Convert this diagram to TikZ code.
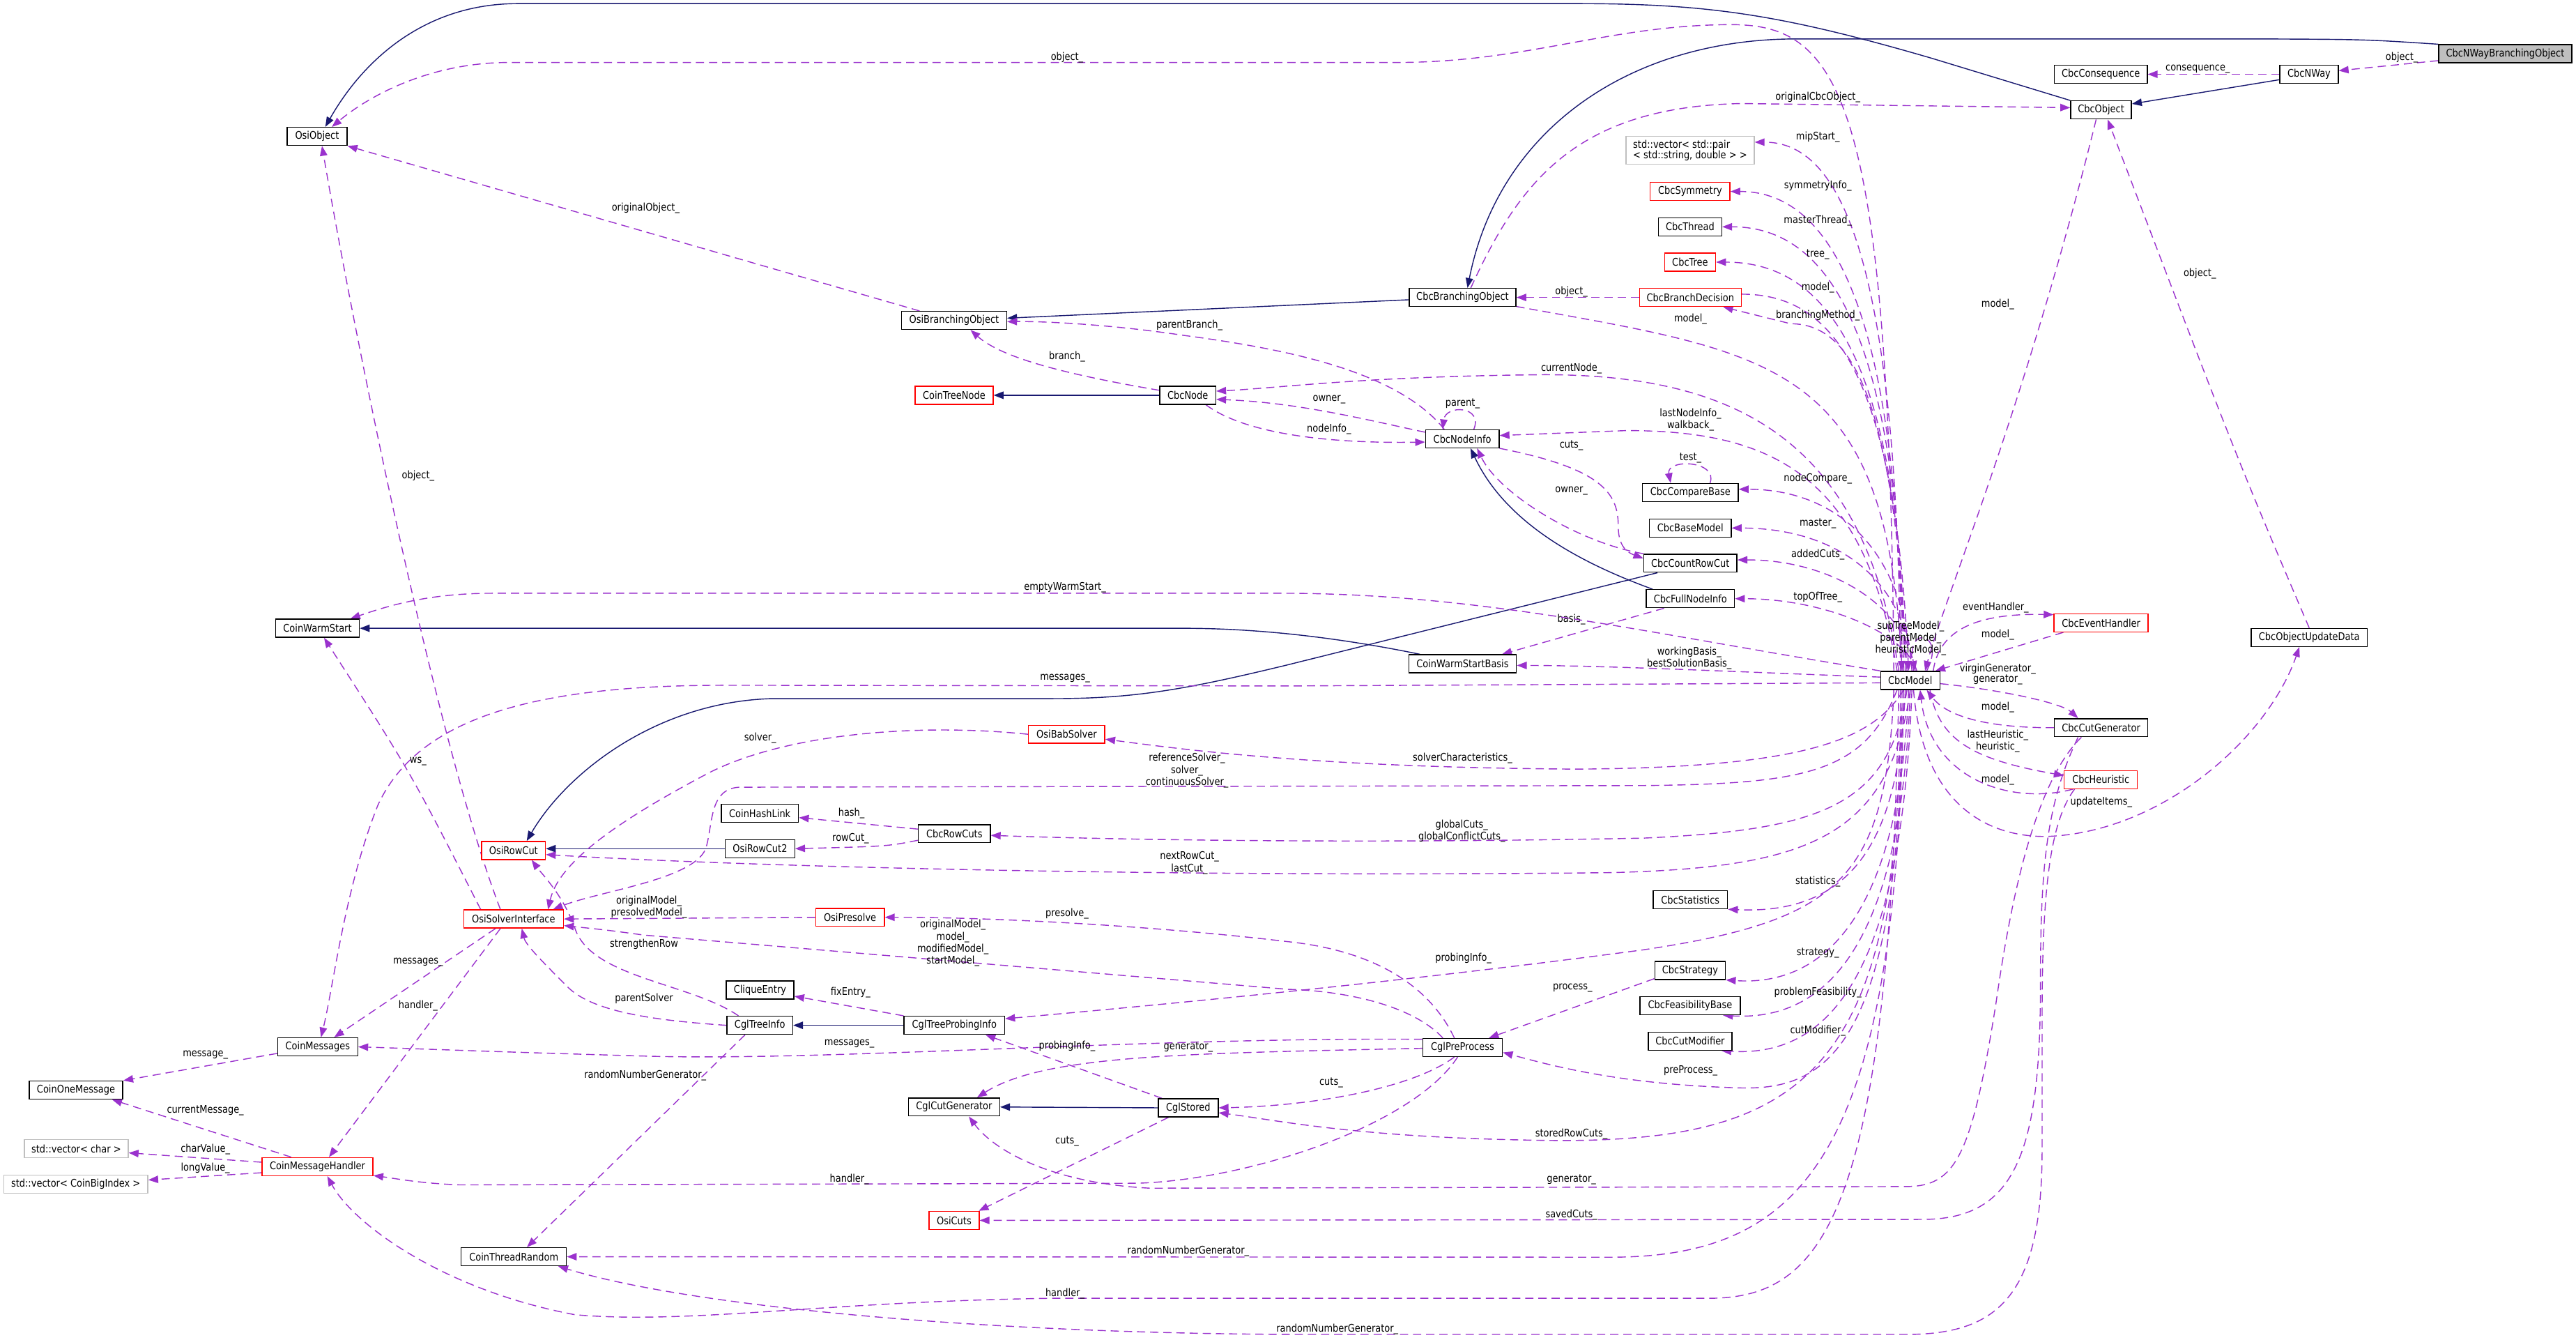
\documentclass[tikz,border=0pt]{standalone}
\usepackage{fontspec}
\setmainfont{DejaVu Sans}[FakeStretch=0.86]
\usetikzlibrary{arrows.meta}
\definecolor{inhblue}{RGB}{25,25,112}
\definecolor{usepurple}{RGB}{154,50,205}
\definecolor{boxred}{RGB}{255,0,0}
\definecolor{boxgray}{RGB}{191,191,191}
\newcommand{\dfont}{\fontsize{6.4}{6.3}\selectfont}
\pgfdeclarelayer{edges}
\pgfsetlayers{edges,main}
\tikzset{
  cls/.style={draw=black, fill=white, line width=0.6pt, minimum height=11pt, inner sep=0pt, font=\dfont},
  clsred/.style={cls, draw=boxred},
  clsext/.style={cls, draw=boxgray},
  clsfocus/.style={cls, fill=boxgray},
  inh/.style={-{Triangle[length=6pt,width=4.5pt]}, inhblue, line width=0.6pt},
  useedge/.style={-{Triangle[length=6pt,width=4.5pt]}, usepurple, line width=0.6pt, dash pattern=on 5pt off 3pt},
  lbl/.style={font=\dfont, text=black, inner sep=0pt, align=center},
}

\begin{document}
\begin{tikzpicture}[x=1pt, y=-1pt]
    \useasboundingbox (0,0) rectangle (1568,815);
    % --- classes
    \node[cls, minimum width=36.5pt] (OsiObject) at (193,83) {OsiObject};
    \node[cls, minimum width=64pt] (OsiBranchingObject) at (580.75,195) {OsiBranchingObject};
    \node[clsred, minimum width=47.5pt] (CoinTreeNode) at (580.75,240.5) {CoinTreeNode};
    \node[cls, minimum width=34pt] (CbcNode) at (723,240.5) {CbcNode};
    \node[clsext, minimum width=78pt, minimum height=17pt, align=left] (vecPair) at (1028.75,91.5) {std::vector< std::pair\\< std::string, double > >};
    \node[clsred, minimum width=48.5pt] (CbcSymmetry) at (1028.75,116.5) {CbcSymmetry};
    \node[cls, minimum width=38.5pt] (CbcThread) at (1028.75,138) {CbcThread};
    \node[clsred, minimum width=31pt] (CbcTree) at (1028.75,159.5) {CbcTree};
    \node[clsred, minimum width=62pt] (CbcBranchDecision) at (1028.9,181) {CbcBranchDecision};
    \node[cls, minimum width=65pt] (CbcBranchingObject) at (890.25,181) {CbcBranchingObject};
    \node[cls, minimum width=44.75pt] (CbcNodeInfo) at (890.1,267) {CbcNodeInfo};
    \node[clsfocus, minimum width=81pt] (CbcNWayBranchingObject) at (1524.9,32.7) {CbcNWayBranchingObject};
    \node[cls, minimum width=56.5pt] (CbcConsequence) at (1278.75,45.2) {CbcConsequence};
    \node[cls, minimum width=35.5pt] (CbcNWay) at (1405.5,45.2) {CbcNWay};
    \node[cls, minimum width=37pt] (CbcObject) at (1278.9,66.9) {CbcObject};
    \node[cls, minimum width=51pt] (CoinWarmStart) at (193.25,382.3) {CoinWarmStart};
    \node[clsred, minimum width=38.75pt] (OsiRowCut) at (312.6,517.5) {OsiRowCut};
    \node[clsred, minimum width=46.5pt] (OsiBabSolver) at (649.25,446.8) {OsiBabSolver};
    \node[cls, minimum width=47pt] (CoinHashLink) at (462.5,494.9) {CoinHashLink};
    \node[cls, minimum width=43.75pt] (CbcRowCuts) at (580.9,507.3) {CbcRowCuts};
    \node[cls, minimum width=42.25pt] (OsiRowCut2) at (462.6,516.4) {OsiRowCut2};
    \node[cls, minimum width=58.25pt] (CbcCompareBase) at (1028.9,299.7) {CbcCompareBase};
    \node[cls, minimum width=49.75pt] (CbcBaseModel) at (1028.9,321.3) {CbcBaseModel};
    \node[cls, minimum width=56.75pt] (CbcCountRowCut) at (1028.9,342.7) {CbcCountRowCut};
    \node[cls, minimum width=53.75pt] (CbcFullNodeInfo) at (1028.9,364.3) {CbcFullNodeInfo};
    \node[cls, minimum width=65.5pt] (CoinWarmStartBasis) at (890.25,403.9) {CoinWarmStartBasis};
    \node[cls, minimum width=36pt] (CbcModel) at (1162.75,414) {CbcModel};
    \node[cls, minimum width=45.25pt] (CbcStatistics) at (1028.9,547.5) {CbcStatistics};
    \node[clsred, minimum width=57.25pt] (CbcEventHandler) at (1278.9,379) {CbcEventHandler};
    \node[cls, minimum width=70.75pt] (CbcObjectUpdateData) at (1405.6,387.9) {CbcObjectUpdateData};
    \node[cls, minimum width=56.75pt] (CbcCutGenerator) at (1278.9,442.8) {CbcCutGenerator};
    \node[clsred, minimum width=44.5pt] (CbcHeuristic) at (1278.75,474.4) {CbcHeuristic};
    \node[clsred, minimum width=60.75pt] (OsiSolverInterface) at (312.6,559.2) {OsiSolverInterface};
    \node[cls, minimum width=48.75pt] (CoinMessages) at (193.4,637) {CoinMessages};
    \node[cls, minimum width=57pt] (CoinOneMessage) at (46.25,663.3) {CoinOneMessage};
    \node[clsext, minimum width=63.25pt] (vecChar) at (46.4,699) {std::vector< char >};
    \node[clsext, minimum width=87.75pt] (vecBigIndex) at (46.1,720.5) {std::vector< CoinBigIndex >};
    \node[clsred, minimum width=67.5pt] (CoinMessageHandler) at (193.25,709.9) {CoinMessageHandler};
    \node[cls, minimum width=64pt] (CoinThreadRandom) at (312.75,764.7) {CoinThreadRandom};
    \node[clsred, minimum width=41.75pt] (OsiPresolve) at (517.4,558.2) {OsiPresolve};
    \node[cls, minimum width=41.25pt] (CliqueEntry) at (462.6,602.4) {CliqueEntry};
    \node[cls, minimum width=40pt] (CglTreeInfo) at (462.5,623.9) {CglTreeInfo};
    \node[cls, minimum width=61.25pt] (CglTreeProbingInfo) at (580.9,623.9) {CglTreeProbingInfo};
    \node[cls, minimum width=55.5pt] (CglCutGenerator) at (580.75,673.6) {CglCutGenerator};
    \node[cls, minimum width=36.5pt] (CglStored) at (723.25,674.1) {CglStored};
    \node[clsred, minimum width=30.5pt] (OsiCuts) at (580.75,742.6) {OsiCuts};
    \node[cls, minimum width=43pt] (CbcStrategy) at (1028.75,590.5) {CbcStrategy};
    \node[cls, minimum width=61pt] (CbcFeasibilityBase) at (1028.75,612) {CbcFeasibilityBase};
    \node[cls, minimum width=51pt] (CbcCutModifier) at (1028.75,633.5) {CbcCutModifier};
    \node[cls, minimum width=48.5pt] (CglPreProcess) at (890.25,637.4) {CglPreProcess};

    \begin{pgfonlayer}{edges}
    % --- inheritance
    \draw[inh] (CbcNWayBranchingObject.north west) .. controls (1440,24) .. (1380,23.7) -- (1090,23.7) .. controls (990,25) and (912,80) .. ([xshift=3]CbcBranchingObject.north);
    \draw[inh] ([yshift=-1.4]CbcBranchingObject.west) -- ([yshift=1.4]OsiBranchingObject.east);
    \draw[inh] (CbcObject.north west) -- (1176,35.5) .. controls (1085,9) and (1040,2.2) .. (960,2.2) -- (315,2.2) .. controls (260,2.2) and (222,35) .. ([xshift=5]OsiObject.north);
    \draw[inh] ([yshift=-3.3]CbcNWay.west) -- ([yshift=3.7]CbcObject.east);
    \draw[inh] (CbcNode.west) -- (CoinTreeNode.east);
    \draw[inh] ([xshift=-23]CbcFullNodeInfo.north) .. controls (955,340) and (915,315) .. ([xshift=5]CbcNodeInfo.south);
    \draw[inh] ([xshift=-26]CoinWarmStartBasis.north) .. controls (820,389) and (770,382.3) .. (720,382.3) -- (CoinWarmStart.east);
    \draw[inh] ([xshift=-20]CbcCountRowCut.south) -- (784,404.5) .. controls (720,420) and (690,425.1) .. (640,425.1) -- (470,425.1) .. controls (400,427) and (345,470) .. ([xshift=8]OsiRowCut.north);
    \draw[inh] (OsiRowCut2.west) -- (OsiRowCut.east |- OsiRowCut2.west);
    \draw[inh] (CglTreeProbingInfo.west) -- (CglTreeInfo.east);
    \draw[inh] (CglStored.west) -- (CglCutGenerator.east);

    % --- top right
    \draw[useedge] ([yshift=-4.2]CbcNWayBranchingObject.west) -- ([yshift=2.2]CbcNWay.east) node[lbl] (l-nwobj) at (1462,35) {object\_};
    \draw[useedge] (CbcNWay.west) -- (CbcConsequence.east) node[lbl] (l-conseq) at (1337.75,41.9) {consequence\_};
    \draw[useedge] ([xshift=-10]CbcModel.north) .. controls (1150,60) and (1120,15) .. (1054,15) .. controls (980,15) and (930,38) .. (850,38) -- (310,38) .. controls (262,38) and (225,58) .. ([xshift=9]OsiObject.north) node[lbl] (l-obj) at (649.5,35) {object\_};
    \draw[useedge] ([xshift=-3]CbcObject.south) .. controls (1232,250) and (1185,360) .. ([xshift=9]CbcModel.north) node[lbl] (l-objmodel) at (1216,185.3) {model\_};
    \draw[useedge] (CbcObjectUpdateData.north) .. controls (1362,280) .. ([xshift=4]CbcObject.south) node[lbl] (l-oudobj) at (1339,166.6) {object\_};
    \draw[useedge] ([xshift=2]CbcModel.south) .. controls (1170,485) and (1205,509) .. (1245,509) .. controls (1315,507) and (1380,450) .. ([xshift=-6]CbcObjectUpdateData.south) node[lbl] (l-upd) at (1279,488.2) {updateItems\_};
    \draw[useedge] ([xshift=5]CbcBranchingObject.north) .. controls (925,110) and (960,65) .. (1060,63) -- ([yshift=1.4]CbcObject.west) node[lbl] (l-origcbc) at (1106.5,59.2) {originalCbcObject\_};

    % --- column above CbcModel
    \draw[useedge] ([xshift=-6]CbcModel.north) .. controls (1155,140) and (1115,86.5) .. ([yshift=5]vecPair.east) node[lbl] (l-mip) at (1106.5,83.5) {mipStart\_};
    \draw[useedge] ([xshift=-5]CbcModel.north) .. controls (1156,165) and (1105,116.5) .. (CbcSymmetry.east) node[lbl] (l-sym) at (1106.5,112.9) {symmetryInfo\_};
    \draw[useedge] ([xshift=-4]CbcModel.north) .. controls (1156,185) and (1105,138) .. (CbcThread.east) node[lbl] (l-thr) at (1106.5,134.2) {masterThread\_};
    \draw[useedge] ([xshift=-3]CbcModel.north) .. controls (1156,205) and (1105,159.5) .. (CbcTree.east) node[lbl] (l-tree) at (1106.5,154.7) {tree\_};
    \draw[useedge] ([yshift=2]CbcBranchDecision.east) .. controls (1115,179) and (1153,225) .. ([xshift=-1]CbcModel.north) node[lbl] (l-bdmodel) at (1106.5,175) {model\_};
    \draw[useedge] ([xshift=-2]CbcModel.north) .. controls (1153,250) and (1130,197) .. (1090,197) -- ([xshift=20]CbcBranchDecision.south) node[lbl] (l-brm) at (1106.5,191.9) {branchingMethod\_};
    \draw[useedge] (CbcBranchDecision.west) -- (CbcBranchingObject.east) node[lbl] (l-bdobj) at (956.5,177.5) {object\_};
    \draw[useedge] ([yshift=-5.5]CbcBranchingObject.east) .. controls (1080,215) and (1148,220) .. ([xshift=-5]CbcModel.north) node[lbl] (l-brmodel) at (1029,194.3) {model\_};
    \draw[useedge] ([xshift=-7]CbcModel.north) .. controls (1135,270) and (1060,228) .. (940,228) .. controls (830,229) and (780,236) .. ([yshift=2.5]CbcNode.east) node[lbl] (l-cur) at (956.5,224.3) {currentNode\_};
    \draw[useedge] ([yshift=4]CbcNodeInfo.west) .. controls (830,255) and (790,245) .. ([yshift=-2.5]CbcNode.east) node[lbl] (l-owner1) at (809,243) {owner\_};
    \draw[useedge] ([xshift=11]CbcNode.south) .. controls (755,262) and (800,270) .. ([yshift=-2]CbcNodeInfo.west) node[lbl] (l-ninfo) at (809,261.2) {nodeInfo\_};
    \draw[useedge] ([xshift=-11]CbcNodeInfo.north) .. controls (850,225) and (780,212) .. (720,204) .. controls (680,198) and (640,195.5) .. ([yshift=-0.7]OsiBranchingObject.east) node[lbl] (l-pbr) at (724,197.8) {parentBranch\_};
    \draw[useedge] ([yshift=3]CbcNode.west) .. controls (650,228) and (610,218) .. ([xshift=10]OsiBranchingObject.south) node[lbl] (l-branch) at (649.5,217) {branch\_};
    \draw[useedge] ([xshift=7]CbcNodeInfo.north) .. controls (903,247) and (880,246) .. ([xshift=-12]CbcNodeInfo.north) node[lbl] (l-parent) at (890.25,245.5) {parent\_};
    \draw[useedge] ([xshift=-8]CbcModel.north) .. controls (1135,290) and (1080,262) .. (990,262) -- ([yshift=2]CbcNodeInfo.east) node[lbl] (l-lni) at (1029,255.4) {lastNodeInfo\_\\walkback\_};
    \draw[useedge] ([xshift=-21]OsiBranchingObject.north) -- (OsiObject.south east) node[lbl] (l-origobj) at (393,126.8) {originalObject\_};
    \draw[useedge] ([xshift=-8]OsiSolverInterface.north) .. controls (265,450) and (215,200) .. ([xshift=3]OsiObject.south) node[lbl] (l-siobj) at (254.5,289.5) {object\_};
    \draw[useedge] (CbcNodeInfo.south east) .. controls (975,285) and (985,300) .. (985,320) .. controls (985,332) and (990,336) .. ([yshift=3]CbcCountRowCut.west) node[lbl] (l-cuts1) at (956.5,271) {cuts\_};
    \draw[useedge] (CbcCountRowCut.north west) .. controls (960,330) and (912,300) .. ([xshift=9]CbcNodeInfo.south) node[lbl] (l-owner2) at (956.5,298.7) {owner\_};
    \draw[useedge] ([xshift=12]CbcCompareBase.north) .. controls (1046,280) and (1014,279) .. ([xshift=-12]CbcCompareBase.north) node[lbl] (l-test) at (1029,278.5) {test\_};
    \draw[useedge] ([xshift=1]CbcModel.north) .. controls (1158,325) and (1110,297.7) .. ([yshift=2]CbcCompareBase.east) node[lbl] (l-ncmp) at (1106.5,291.4) {nodeCompare\_};
    \draw[useedge] ([xshift=2]CbcModel.north) .. controls (1158,345) and (1110,321.3) .. (CbcBaseModel.east) node[lbl] (l-master) at (1106.5,318.6) {master\_};
    \draw[useedge] ([xshift=3]CbcModel.north) .. controls (1159,365) and (1110,340.5) .. ([yshift=2]CbcCountRowCut.east) node[lbl] (l-added) at (1106.5,337.3) {addedCuts\_};
    \draw[useedge] ([xshift=4]CbcModel.north) .. controls (1160,385) and (1110,364.3) .. (CbcFullNodeInfo.east) node[lbl] (l-top) at (1106.5,363.3) {topOfTree\_};
    \draw[useedge] ([xshift=-16]CbcFullNodeInfo.south) -- ([xshift=24]CoinWarmStartBasis.north) node[lbl] (l-basis) at (956.5,376.8) {basis\_};
    \draw[useedge] (CbcModel.north west) .. controls (1000,385) and (900,361) .. (780,361) -- (300,361) .. controls (262,361) and (238,368) .. ([xshift=20]CoinWarmStart.north) node[lbl] (l-ews) at (648.25,357.6) {emptyWarmStart\_};
    \draw[useedge] ([xshift=10]CbcModel.north) .. controls (1185,385) and (1160,380) .. ([xshift=3]CbcModel.north) node[lbl] (l-sub) at (1163,388.4) {subTreeModel\_\\parentModel\_\\heuristicModel\_};

    % --- left of CbcModel
    \draw[useedge] ([yshift=2]CbcModel.west) .. controls (1060,409) and (980,405) .. ([yshift=-1]CoinWarmStartBasis.east) node[lbl] (l-wb) at (1028.25,400.5) {workingBasis\_\\bestSolutionBasis\_};
    \draw[useedge] ([yshift=-1.5]CbcModel.west) -- (784,417.4) -- (440,417) .. controls (330,417) and (255,435) .. (230,490) .. controls (210,540) and (203,600) .. ([xshift=2]CoinMessages.north) node[lbl] (l-msg1) at (648.25,412.7) {messages\_};
    \draw[useedge] (OsiBabSolver.west) .. controls (560,440) and (480,446) .. (432,470) .. controls (375,500) and (340,525) .. ([xshift=21]OsiSolverInterface.north) node[lbl] (l-solver) at (462.75,449) {solver\_};
    \draw[useedge] ([xshift=-4]CbcModel.south) .. controls (1140,450) and (1100,467) .. (960,468) .. controls (800,467) and (720,456) .. ([yshift=-3]OsiBabSolver.east) node[lbl] (l-schar) at (890.25,461.5) {solverCharacteristics\_};
    \draw[useedge] ([xshift=-8]CbcModel.south) .. controls (1135,470) and (1100,477) .. (1000,478) -- (450,479) .. controls (432,480) and (434,500) .. (430,515) .. controls (425,535) and (365,542) .. ([xshift=24]OsiSolverInterface.north) node[lbl] (l-refsolver) at (722.5,468.9) {referenceSolver\_\\solver\_\\continuousSolver\_};
    \draw[useedge] ([yshift=2.8]CbcRowCuts.west) -- ([yshift=-2.6]CoinHashLink.east) node[lbl] (l-hash) at (518.25,494.9) {hash\_};
    \draw[useedge] ([yshift=-4]CbcRowCuts.west) .. controls (540,515) .. (OsiRowCut2.east) node[lbl] (l-rowcut) at (517.75,510.2) {rowCut\_};
    \draw[useedge] ([xshift=-2]CbcModel.south) .. controls (1150,490) and (1110,505) .. (1000,510) .. controls (800,514) and (650,510) .. ([yshift=-1]CbcRowCuts.east) node[lbl] (l-gcuts) at (889.75,505.7) {globalCuts\_\\globalConflictCuts\_};
    \draw[useedge] (CbcModel.south) .. controls (1150,510) and (1100,528) .. (980,531) .. controls (700,534) and (450,527) .. ([yshift=-2.5]OsiRowCut.east) node[lbl] (l-nrc) at (724,525.1) {nextRowCut\_\\lastCut\_};
    \draw[useedge] ([xshift=-20]OsiSolverInterface.north) .. controls (250,470) .. ([xshift=4]CoinWarmStart.south) node[lbl] (l-ws) at (254.5,463.2) {ws\_};

    % --- column below CbcModel
    \draw[useedge] ([xshift=-3]CbcModel.south) .. controls (1156,500) and (1135,557) .. (CbcStatistics.south east) node[lbl] (l-stat) at (1106.5,536.5) {statistics\_};
    \draw[useedge] ([xshift=-1]CbcModel.south) .. controls (1157,540) and (1120,601) .. (CbcStrategy.south east) node[lbl] (l-strat) at (1106.5,579.9) {strategy\_};
    \draw[useedge] ([xshift=0]CbcModel.south) .. controls (1158,560) and (1120,622) .. ([xshift=20]CbcFeasibilityBase.south) node[lbl] (l-feas) at (1106.5,604) {problemFeasibility\_};
    \draw[useedge] ([xshift=1]CbcModel.south) .. controls (1158,580) and (1120,644) .. ([xshift=19]CbcCutModifier.south) node[lbl] (l-cmod) at (1106.5,627.3) {cutModifier\_};
    \draw[useedge] ([xshift=-5]CbcModel.south) .. controls (1158,640) and (1110,663) .. (1060,662) .. controls (990,660) and (950,650) .. ([yshift=-3]CglPreProcess.east) node[lbl] (l-prep) at (1029,651.6) {preProcess\_};
    \draw[useedge] ([yshift=-5]CbcStrategy.west) -- ([xshift=16]CglPreProcess.north) node[lbl] (l-process) at (957.25,601) {process\_};
    \draw[useedge] ([xshift=-10]CbcModel.south) .. controls (1148,535) and (1120,560) .. (1000,578) .. controls (850,598) and (700,612) .. ([yshift=4]CglTreeProbingInfo.east) node[lbl] (l-probe1) at (890.75,583.2) {probingInfo\_};
    \draw[useedge] ([xshift=-6]CbcModel.south) .. controls (1158,650) and (1100,694) .. (950,694) .. controls (830,693) and (780,682) .. ([yshift=-3]CglStored.east) node[lbl] (l-stored) at (956.5,690.2) {storedRowCuts\_};
    \draw[useedge] ([xshift=-4]CbcModel.south) .. controls (1155,700) and (1100,765) .. (980,765) -- (CoinThreadRandom.east) node[lbl] (l-rng2) at (723.25,761.2) {randomNumberGenerator\_};
    \draw[useedge] ([xshift=-7]CbcModel.south) .. controls (1150,740) and (1110,790) .. (1040,790) -- (640,790) .. controls (500,792) and (420,806) .. (350,800) .. controls (270,785) and (215,745) .. ([xshift=6]CoinMessageHandler.south) node[lbl] (l-hdl3) at (648.25,787.2) {handler\_};

    % --- right of CbcModel
    \draw[useedge] ([xshift=14]CbcModel.north) .. controls (1180,385) and (1200,373) .. ([yshift=5]CbcEventHandler.west) node[lbl] (l-evh) at (1214.75,369.7) {eventHandler\_};
    \draw[useedge] ([xshift=-23]CbcEventHandler.south) -- ([xshift=-3]CbcModel.north east) node[lbl] (l-ehmodel) at (1216,386.3) {model\_};
    \draw[useedge] ([yshift=-2]CbcModel.east) .. controls (1220,420) and (1255,428) .. ([xshift=-14]CbcCutGenerator.north) node[lbl] (l-virgin) at (1216,410.3) {virginGenerator\_\\generator\_};
    \draw[useedge] (CbcCutGenerator.west) .. controls (1210,443) and (1185,436) .. ([xshift=10]CbcModel.south) node[lbl] (l-cgmodel) at (1216,430.3) {model\_};
    \draw[useedge] ([xshift=12]CbcModel.south) .. controls (1180,450) and (1200,462) .. ([yshift=2.5]CbcHeuristic.west) node[lbl] (l-lheur) at (1216,451) {lastHeuristic\_\\heuristic\_};
    \draw[useedge] ([xshift=-17]CbcHeuristic.south) .. controls (1225,490) and (1175,475) .. ([xshift=6]CbcModel.south) node[lbl] (l-hmodel) at (1216,474.5) {model\_};
    \draw[useedge] ([xshift=-12]CbcCutGenerator.south) .. controls (1240,475) and (1225,540) .. (1215,610) .. controls (1200,705) and (1190,722) .. (1160,722) -- (700,723) .. controls (640,720) and (605,700) .. ([xshift=9]CglCutGenerator.south) node[lbl] (l-gen2) at (956.5,718) {generator\_};
    \draw[useedge] ([xshift=-14]CbcCutGenerator.south) .. controls (1245,490) and (1242,530) .. (1242,600) .. controls (1242,705) and (1225,742) .. (1170,742) -- (OsiCuts.east) node[lbl] (l-saved) at (956.5,739.2) {savedCuts\_};
    \draw[useedge] ([xshift=-16]CbcHeuristic.south) .. controls (1248,500) and (1243,540) .. (1243,620) -- (1243,700) .. controls (1243,790) and (1215,812) .. (1160,812) -- (800,812) .. controls (600,812) and (420,795) .. ([xshift=27]CoinThreadRandom.south) node[lbl] (l-rng3) at (814,808.8) {randomNumberGenerator\_};

    % --- solver, preprocessing and messages
    \draw[useedge] (OsiPresolve.west) -- (OsiSolverInterface.east) node[lbl] (l-pres1) at (395,552) {originalModel\_\\presolvedModel\_};
    \draw[useedge] ([xshift=-12]CglPreProcess.north) .. controls (860,612) and (820,603) .. (784,602) -- (392,569) .. controls (370,566) .. ([yshift=-4]OsiSolverInterface.east) node[lbl] (l-origmodel) at (580,573.9) {originalModel\_\\model\_\\modifiedModel\_\\startModel\_};
    \draw[useedge] ([xshift=-5]CglPreProcess.north) .. controls (875,610) and (850,580) .. (784,573) .. controls (700,563) and (600,558) .. (OsiPresolve.east) node[lbl] (l-presolve) at (649.5,556) {presolve\_};
    \draw[useedge] ([xshift=-13]CglTreeInfo.north) .. controls (420,598) and (360,595) .. (350,565) .. controls (343,545) and (330,532) .. ([xshift=11]OsiRowCut.south) node[lbl] (l-strength) at (392,574.7) {strengthenRow};
    \draw[useedge] (CglTreeInfo.west) .. controls (400,621) and (360,616) .. (345,600) .. controls (330,585) and (320,575) .. ([xshift=5]OsiSolverInterface.south) node[lbl] (l-psolver) at (392,607.6) {parentSolver};
    \draw[useedge] ([xshift=-11]OsiSolverInterface.south) -- ([xshift=10]CoinMessages.north) node[lbl] (l-msg2) at (254.5,585.4) {messages\_};
    \draw[useedge] ([xshift=-8]OsiSolverInterface.south) -- ([xshift=7]CoinMessageHandler.north) node[lbl] (l-hdl1) at (254.5,612) {handler\_};
    \draw[useedge] ([yshift=-4]CoinMessages.west) -- (CoinOneMessage.north east) node[lbl] (l-message) at (125,641.7) {message\_};
    \draw[useedge] ([xshift=-16]CoinMessageHandler.north) -- ([xshift=22]CoinOneMessage.south) node[lbl] (l-curmsg) at (125,675.8) {currentMessage\_};
    \draw[useedge] ([yshift=2.7]CoinMessageHandler.west) -- ([yshift=-2.5]vecChar.east) node[lbl] (l-char) at (125,699.4) {charValue\_};
    \draw[useedge] ([yshift=-3.7]CoinMessageHandler.west) -- ([yshift=2.5]vecBigIndex.east) node[lbl] (l-long) at (125,710.7) {longValue\_};
    \draw[useedge] ([yshift=5]CglPreProcess.west) .. controls (700,631) and (500,646) .. (392,642.6) .. controls (300,640) and (250,638) .. (CoinMessages.east) node[lbl] (l-msg3) at (517,635) {messages\_};
    \draw[useedge] ([yshift=-0.5]CglPreProcess.west) .. controls (720,641) and (635,642) .. ([xshift=14]CglCutGenerator.north) node[lbl] (l-gen1) at (723.25,637.4) {generator\_};
    \draw[useedge] ([xshift=-16]CglStored.north) -- ([xshift=19]CglTreeProbingInfo.south) node[lbl] (l-probe2) at (649.5,636.5) {probingInfo\_};
    \draw[useedge] (CglTreeProbingInfo.north west) -- ([yshift=-3.8]CliqueEntry.east) node[lbl] (l-fix) at (517.75,604.1) {fixEntry\_};
    \draw[useedge] ([xshift=-9]CglTreeInfo.south) -- ([xshift=8]CoinThreadRandom.north) node[lbl] (l-rng1) at (392.75,654.4) {randomNumberGenerator\_};
    \draw[useedge] ([xshift=-12]CglStored.south) -- ([xshift=15]OsiCuts.north) node[lbl] (l-cuts2) at (649.5,694.6) {cuts\_};
    \draw[useedge] ([xshift=-5]CglPreProcess.south) .. controls (860,662) and (800,673) .. (CglStored.east) node[lbl] (l-cuts3) at (810.25,658.7) {cuts\_};
    \draw[useedge] ([xshift=-3]CglPreProcess.south) .. controls (860,685) and (760,718) .. (692,720) -- (280,721) .. controls (255,720) and (240,717) .. ([yshift=-5.4]CoinMessageHandler.east) node[lbl] (l-hdl2) at (517,717.6) {handler\_};
    \end{pgfonlayer}
\end{tikzpicture}
\end{document}
